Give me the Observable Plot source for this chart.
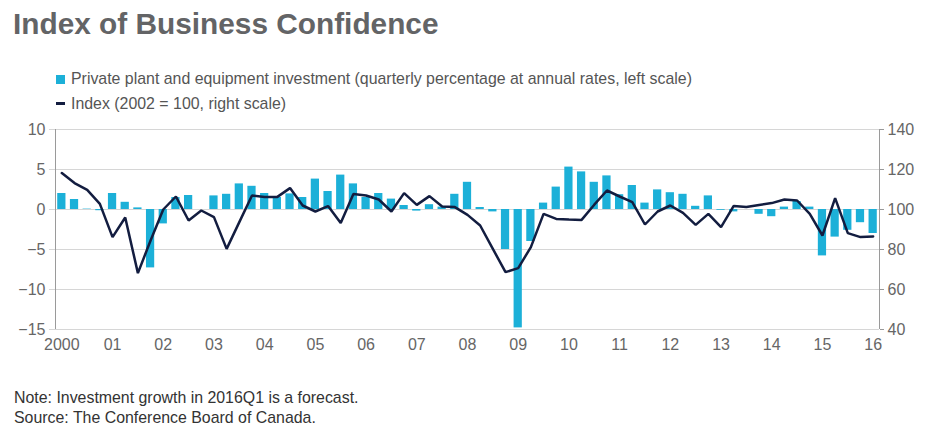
<!DOCTYPE html>
<html>
<head>
<meta charset="utf-8">
<script src="https://cdn.jsdelivr.net/npm/d3@7"></script>
<script src="https://cdn.jsdelivr.net/npm/@observablehq/plot@0.6"></script>
<style>
  html, body { margin: 0; padding: 0; background: #fff; }
  body { width: 930px; height: 439px; position: relative; overflow: hidden; font-family: "Liberation Sans", Arial, Helvetica, sans-serif; }
  #title { position: absolute; left: 13px; top: 7px; font-size: 29.8px; font-weight: bold; color: #636466; line-height: 34px; white-space: nowrap; }
  .leg { position: absolute; left: 56px; font-size: 15.9px; color: #555; line-height: 18px; white-space: nowrap; }
  .leg .sw { display: inline-block; width: 9px; height: 9px; background: #1cb0d8; margin-right: 6px; vertical-align: 0px; }
  .leg .dash { display: inline-block; width: 9px; height: 3px; background: #131d40; margin-right: 6px; vertical-align: 4px; }
  #chart { position: absolute; left: 0; top: 110px; }
  .note { position: absolute; left: 14px; font-size: 15.9px; color: #333; line-height: 18px; white-space: nowrap; }
</style>
</head>
<body>
<div id="title">Index of Business Confidence</div>
<div class="leg" style="top:70px"><span class="sw"></span>Private plant and equipment investment (quarterly percentage at annual rates, left scale)</div>
<div class="leg" style="top:95px"><span class="dash"></span>Index (2002 = 100, right scale)</div>
<div id="chart"></div>
<div class="note" style="top:389px">Note: Investment growth in 2016Q1 is a forecast.</div>
<div class="note" style="top:409px">Source: The Conference Board of Canada.</div>
<script>
// Quarterly data, 2000Q1 to 2016Q1
const firstYear = 2000;
const quarterCount = 65;
const investment = [
  2.0, 1.25, 0.05, -0.15,
  2.0, 0.9, 0.2, -7.3,
  -1.8, 1.5, 1.75, 0.0,
  1.7, 1.9, 3.2, 2.9,
  2.0, 1.5, 1.95, 1.5,
  3.8, 2.25, 4.3, 3.2,
  1.5, 2.0, 1.3, 0.5,
  -0.2, 0.6, 0.3, 1.9,
  3.4, 0.25, -0.3, -5.0,
  -14.8, -4.0, 0.8, 2.8,
  5.3, 4.7, 3.4, 4.2,
  1.85, 3.0, 0.8, 2.45,
  2.1, 1.9, 0.4, 1.7,
  -0.1, -0.3, 0.0, -0.6,
  -0.9, 0.3, 1.0, 0.3,
  -5.8, -3.45, -2.6, -1.65,
  -3.0
];
const confidenceIndex = [
  118.2, 113.2, 109.8, 102.8,
  86.2, 96.0, 68.2, 84.5,
  100.0, 106.5, 94.5, 99.5,
  96.2, 80.3, 93.7, 107.0,
  106.2, 106.3, 110.7, 102.0,
  99.0, 101.7, 93.2, 107.8,
  107.0, 105.0, 99.0, 108.2,
  102.3, 106.7, 101.5, 101.2,
  97.3, 92.0, 80.3, 68.7,
  70.7, 81.2, 97.8, 95.3,
  95.0, 94.8, 102.4, 109.5,
  106.5, 103.7, 92.5, 99.0,
  102.0, 98.3, 92.3, 97.8,
  91.2, 101.8, 101.2, 102.3,
  103.2, 105.0, 104.5, 97.8,
  87.0, 105.7, 88.2, 86.2,
  86.5
];
const yearLabels = ["2000","01","02","03","04","05","06","07","08","09","10","11","12","13","14","15","16"];
const leftTicks = [-15, -10, -5, 0, 5, 10];
const rightTicks = [40, 60, 80, 100, 120, 140];

const quarters = [];
for (let i = 0; i < quarterCount; i++) {
  quarters.push(`${firstYear + Math.floor(i / 4)}Q${(i % 4) + 1}`);
}
const data = quarters.map((q, i) => ({q, inv: investment[i], idx: confidenceIndex[i]}));
// right scale (index) mapped onto the left scale
const toLeft = d3.scaleLinear(d3.extent(rightTicks), d3.extent(leftTicks));
const q1s = quarters.filter(q => q.endsWith("Q1"));
const labelOf = new Map(q1s.map((q, i) => [q, yearLabels[i]]));
const minus = d => (d < 0 ? "\u2212" + Math.abs(d) : String(d));

const plot = Plot.plot({
  width: 930,
  height: 250,
  marginTop: 19,
  marginBottom: 31,
  marginLeft: 55,
  marginRight: 51,
  x: {type: "band", domain: quarters, paddingInner: 0.35, paddingOuter: 0.175, label: null},
  y: {domain: d3.extent(leftTicks), label: null},
  style: {fontFamily: "'Liberation Sans', Arial, Helvetica, sans-serif", fontSize: "16px", color: "#666", background: "transparent"},
  marks: [
    Plot.gridY(leftTicks, {stroke: "#d6d6d6", strokeOpacity: 1, strokeWidth: 1}),
    Plot.barY(data, {x: "q", y: "inv", fill: "#1cb0d8"}),
    Plot.lineY(data, {x: "q", y: d => toLeft(d.idx), stroke: "#131d40", strokeWidth: 2.5, strokeLinejoin: "miter"}),
    Plot.axisY(leftTicks, {anchor: "left", tickSize: 6, tickPadding: 4, stroke: "#d6d6d6", tickFormat: minus, fill: "#666"}),
    Plot.axisY(leftTicks, {anchor: "right", tickSize: 4, tickPadding: 4, stroke: "#999", tickFormat: d => String(Math.round(toLeft.invert(d))), fill: "#666"}),
    Plot.axisX(q1s, {anchor: "bottom", tickSize: 0, tickPadding: 9, tickFormat: q => labelOf.get(q), fill: "#666"})
  ]
});

// vertical axis lines at the plot edges
const xr = plot.scale("x").range;
const yr = plot.scale("y").range;
const svg = d3.select(plot);
svg.append("g").attr("stroke", "#9a9a9a").attr("stroke-width", 1)
  .selectAll("line").data([xr[0], xr[1]]).join("line")
  .attr("x1", d => d + 0.5).attr("x2", d => d + 0.5)
  .attr("y1", Math.min(...yr)).attr("y2", Math.max(...yr));

document.getElementById("chart").appendChild(plot);
</script>
</body>
</html>
